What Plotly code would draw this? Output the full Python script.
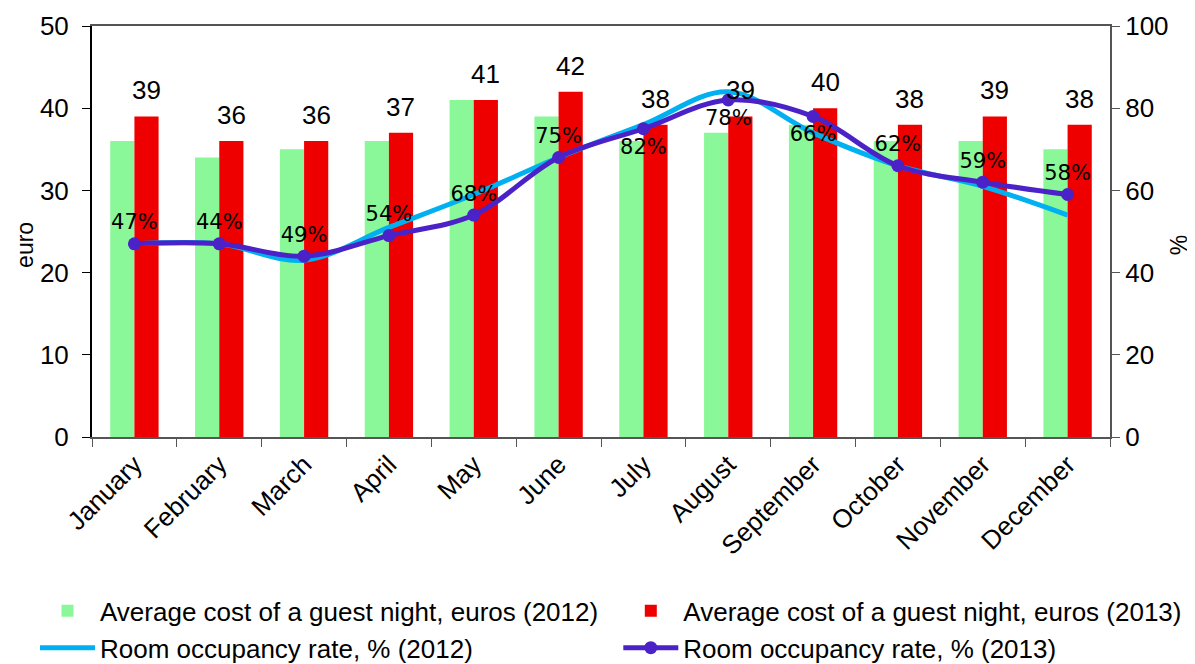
import plotly.graph_objects as go

months = ["January", "February", "March", "April", "May", "June", "July",
          "August", "September", "October", "November", "December"]
cost_2012 = [36, 34, 35, 36, 41, 39, 36, 37, 38, 36, 36, 35]
cost_2013 = [39, 36, 36, 37, 41, 42, 38, 39, 40, 38, 39, 38]
occ_2012 = [47, 47, 43, 51, 59, 68, 76, 84, 74, 66, 61, 54]
occ_2013 = [47, 47, 44, 49, 54, 68, 75, 82, 78, 66, 62, 59]
occ_labels = ["47%", "44%", "49%", "54%", "68%", "75%", "82%", "78%", "66%", "62%", "59%", "58%"]
label_pos = ["top center"] * 6 + ["bottom center"] * 3 + ["top center"] * 3

FONT = "Liberation Sans, Arial, sans-serif"
FS = 26

fig = go.Figure()
fig.add_trace(go.Bar(
    x=months, y=cost_2012, name="Average cost of a guest night, euros (2012)",
    marker=dict(color="#8AF898", line=dict(width=0)),
    legend="legend", legendgroup="a",
))
fig.add_trace(go.Bar(
    x=months, y=cost_2013, name="Average cost of a guest night, euros (2013)",
    marker=dict(color="#EE0000", line=dict(width=0)),
    legend="legend2", legendgroup="b",
))
fig.add_trace(go.Scatter(
    x=months, y=occ_2012, name="Room occupancy rate, % (2012)", yaxis="y2",
    mode="lines", line=dict(color="#00B0F0", width=5, shape="spline", smoothing=1.0),
    legend="legend", legendgroup="c",
))
fig.add_trace(go.Scatter(
    x=months, y=occ_2013, name="Room occupancy rate, % (2013)", yaxis="y2",
    mode="lines+markers+text", line=dict(color="#4B22C8", width=5, shape="spline", smoothing=1.0),
    marker=dict(color="#4B22C8", size=13),
    text=occ_labels, textposition=label_pos,
    textfont=dict(family="DejaVu Sans, Verdana, sans-serif", size=21, color="black"),
    cliponaxis=False,
    legend="legend2", legendgroup="d",
))

# value labels above the 2013 bars
for m, v in zip(months, cost_2013):
    fig.add_annotation(
        x=m, y=v, xref="x", yref="y", text=str(v), showarrow=False,
        yanchor="bottom", xshift=12, yshift=9,
        font=dict(family=FONT, size=FS, color="black"),
    )

# axis titles
fig.add_annotation(text="euro", xref="paper", yref="paper", x=-0.066, y=0.467,
                   textangle=-90, showarrow=False, xanchor="center", yanchor="middle",
                   font=dict(family=FONT, size=23, color="black"))
fig.add_annotation(text="%", xref="paper", yref="paper", x=1.068, y=0.467,
                   textangle=-90, showarrow=False, xanchor="center", yanchor="middle",
                   font=dict(family=FONT, size=23, color="black"))

legend_common = dict(
    orientation="v", xanchor="left", yanchor="top",
    font=dict(family=FONT, size=FS, color="black"),
    itemwidth=55, traceorder="normal", tracegroupgap=2,
    bgcolor="rgba(0,0,0,0)",
)

fig.update_layout(
    width=1187, height=656,
    margin=dict(l=84, r=85, t=18, b=227, autoexpand=False),
    plot_bgcolor="white", paper_bgcolor="white",
    font=dict(family=FONT, size=FS, color="black"),
    barmode="group", bargap=0.43, bargroupgap=0,
    showlegend=True,
    legend=dict(x=-0.056, y=-0.366, **legend_common),
    legend2=dict(x=0.517, y=-0.366, **legend_common),
    xaxis=dict(
        type="category", range=[-0.5, 11.5], tickangle=-45, showline=True,
        linecolor="#555", linewidth=2, mirror=True, ticks="outside",
        tickson="boundaries", ticklen=8, tickcolor="#555",
        showgrid=False, tickfont=dict(size=FS), automargin=False,
    ),
    yaxis=dict(
        range=[0, 50], dtick=10, showline=True, linecolor="black", linewidth=2,
        ticks="outside", ticklen=8, tickcolor="black", showgrid=False, zeroline=False,
        ticklabelstandoff=8, tickfont=dict(size=FS), automargin=False,
    ),
    yaxis2=dict(
        range=[0, 100], dtick=20, overlaying="y", side="right", showline=True,
        linecolor="#555", linewidth=2, ticks="outside", ticklen=8, tickcolor="#555",
        showgrid=False, zeroline=False, ticklabelstandoff=0,
        tickfont=dict(size=FS), automargin=False,
    ),
)

fig.write_html("out.html")
